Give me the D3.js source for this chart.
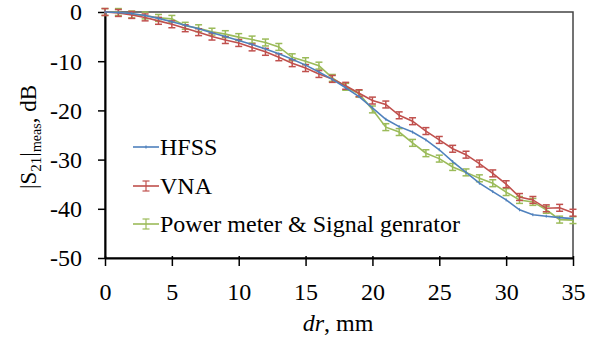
<!DOCTYPE html>
<html>
<head>
<meta charset="utf-8">
<script src="https://cdn.jsdelivr.net/npm/d3@7"></script>
<style>
  body { margin: 0; background: #fff; }
  svg text { font-family: "Liberation Serif", "Times New Roman", Times, "DejaVu Serif", serif !important; }
</style>
</head>
<body>
<svg id="chart" width="600" height="349"></svg>
<script>
'use strict';

// distance dr in mm
const dr = d3.range(0, 36);
const hfss = [0, -0.1, -0.3, -0.7, -1.3, -2, -2.7, -3.4, -4.2, -5, -5.8, -6.6, -7.5, -8.5, -9.6, -10.8,
  -12.2, -13.7, -15.4, -17.2, -19.5, -21.8, -23.3, -24.4, -26, -28, -30.4, -32.6, -34.8, -36.5, -38.2,
  -40.2, -41.2, -41.5, -41.8, -42];
const vna = [0, -0.2, -0.6, -1.1, -1.8, -2.5, -3.3, -4.1, -5, -5.7, -6.3, -7.2, -8.1, -9.2, -10.4, -11.4,
  -12.6, -13.6, -15, -16.5, -18, -18.8, -21, -22.2, -24.2, -26, -27.8, -29, -30.8, -32.8, -35, -37.6,
  -38.2, -39.9, -39.8, -40.8];
const power = [0, 0, -0.5, -0.7, -1.2, -1.4, -2.8, -3.3, -4, -4.5, -5.1, -5.6, -6.2, -7.1, -9.2, -10,
  -10.9, -13.4, -15.2, -16.6, -19.8, -23.4, -24.4, -26.6, -28.7, -29.8, -31.5, -32.6, -33.8, -34.8,
  -36.6, -38.2, -38.6, -40.2, -42.2, -42.3];
const errVna = 0.7;
const errPower = 0.7;
const xTicks = [0, 5, 10, 15, 20, 25, 30, 35];
const yTicks = [0, -10, -20, -30, -40, -50];
const seriesNames = ['HFSS', 'VNA', 'Power meter & Signal genrator'];

(function() {
  const margin = {top: 12, right: 27, bottom: 91, left: 105};
  const width = 600, height = 349;
  const FONT = '"Liberation Serif", "Times New Roman", serif';
  const FS = 24;
  const svg = d3.select('#chart').attr('font-family', FONT);

  const x = d3.scaleLinear().domain([0, 35]).range([margin.left, width - margin.right]);
  const y = d3.scaleLinear().domain([-50, 0]).range([height - margin.bottom, margin.top]);

  const colors = {hfss: '#4F81BD', vna: '#C0504D', power: '#9BBB59'};

  // frame
  svg.append('rect')
    .attr('x', x(0)).attr('y', y(0))
    .attr('width', x(35) - x(0)).attr('height', y(-50) - y(0))
    .attr('fill', 'none').attr('stroke', '#444').attr('stroke-width', 1.5);

  // x axis
  const xAxis = svg.append('g')
    .attr('transform', `translate(0, ${y(-50)})`)
    .call(d3.axisBottom(x).tickValues(xTicks).tickSize(8).tickSizeOuter(0).tickFormat(d => String(d)));
  xAxis.attr('font-family', FONT);
  xAxis.select('.domain').attr('stroke', '#000').attr('stroke-width', 2);
  xAxis.selectAll('.tick line').attr('stroke', '#000').attr('stroke-width', 1.5).attr('y1', -2);
  xAxis.selectAll('.tick text').attr('font-size', FS).attr('fill', '#000').attr('y', 42).attr('dy', 0);

  // y axis
  const yAxis = svg.append('g')
    .attr('transform', `translate(${x(0)}, 0)`)
    .call(d3.axisLeft(y).tickValues(yTicks).tickSize(7).tickSizeOuter(0).tickFormat(d => String(d)));
  yAxis.attr('font-family', FONT);
  yAxis.select('.domain').attr('stroke', '#000').attr('stroke-width', 2);
  yAxis.selectAll('.tick line').attr('stroke', '#000').attr('stroke-width', 1.5);
  yAxis.selectAll('.tick text').attr('font-size', FS).attr('fill', '#000').attr('x', -23).attr('dy', '0.33em');

  // axis titles
  const xt = svg.append('text')
    .attr('x', 338).attr('y', 331)
    .attr('text-anchor', 'middle').attr('font-size', FS);
  xt.append('tspan').attr('font-style', 'italic').text('dr');
  xt.append('tspan').text(', mm');

  const yt = svg.append('text')
    .attr('transform', 'translate(36, 137) rotate(-90)')
    .attr('text-anchor', 'middle').attr('font-size', 23);
  yt.append('tspan').text('|S');
  yt.append('tspan').attr('font-size', 15).attr('dy', 5).text('21');
  yt.append('tspan').attr('dy', -5).text('|');
  yt.append('tspan').attr('font-size', 14).attr('dy', 5).text('meas');
  yt.append('tspan').attr('dy', -5).text(', dB');

  const line = d3.line().x((d, i) => x(dr[i])).y(d => y(d));

  function drawErrors(values, err, color) {
    const g = svg.append('g').attr('stroke', color).attr('stroke-width', 1.5);
    values.forEach((v, i) => {
      g.append('line').attr('x1', x(dr[i])).attr('x2', x(dr[i]))
        .attr('y1', y(v - err)).attr('y2', y(v + err));
      g.append('line').attr('x1', x(dr[i]) - 3.5).attr('x2', x(dr[i]) + 3.5)
        .attr('y1', y(v - err)).attr('y2', y(v - err));
      g.append('line').attr('x1', x(dr[i]) - 3.5).attr('x2', x(dr[i]) + 3.5)
        .attr('y1', y(v + err)).attr('y2', y(v + err));
    });
  }

  // Power meter series
  svg.append('path').datum(power)
    .attr('fill', 'none').attr('stroke', colors.power).attr('stroke-width', 1.6)
    .attr('d', line);
  drawErrors(power, errPower, colors.power);

  // VNA series
  svg.append('path').datum(vna)
    .attr('fill', 'none').attr('stroke', colors.vna).attr('stroke-width', 1.6)
    .attr('d', line);
  drawErrors(vna, errVna, colors.vna);

  // HFSS series
  svg.append('path').datum(hfss)
    .attr('fill', 'none').attr('stroke', colors.hfss).attr('stroke-width', 1.6)
    .attr('d', line);
  svg.append('g').attr('stroke', colors.hfss).attr('stroke-width', 1)
    .selectAll('line').data(hfss).join('line')
    .attr('x1', (d, i) => x(dr[i])).attr('x2', (d, i) => x(dr[i]))
    .attr('y1', d => y(d) - 1.5).attr('y2', d => y(d) + 1.5);

  // legend
  const legendY = [147, 186, 224];
  const legendColors = [colors.hfss, colors.vna, colors.power];
  seriesNames.forEach((name, i) => {
    const g = svg.append('g').attr('transform', `translate(133, ${legendY[i]})`);
    g.append('line').attr('x1', 0).attr('x2', 26).attr('y1', 0).attr('y2', 0)
      .attr('stroke', legendColors[i]).attr('stroke-width', 1.6);
    const h = i === 0 ? 1.5 : 5;
    g.append('line').attr('x1', 13).attr('x2', 13).attr('y1', -h).attr('y2', h)
      .attr('stroke', legendColors[i]).attr('stroke-width', 1.2);
    if (i > 0) {
      g.append('line').attr('x1', 9.5).attr('x2', 16.5).attr('y1', -h).attr('y2', -h)
        .attr('stroke', legendColors[i]).attr('stroke-width', 1.2);
      g.append('line').attr('x1', 9.5).attr('x2', 16.5).attr('y1', h).attr('y2', h)
        .attr('stroke', legendColors[i]).attr('stroke-width', 1.2);
    }
    g.append('text').attr('x', 27).attr('y', 8).attr('font-size', FS).attr('fill', '#000').text(name);
  });
})();
</script>
</body>
</html>
